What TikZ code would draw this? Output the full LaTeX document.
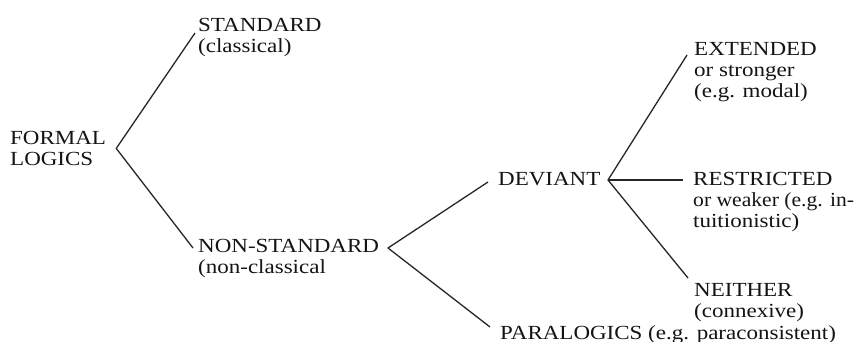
\documentclass[tikz,border=0pt]{standalone}
\usepackage{fontspec}
\setmainfont{Liberation Serif}[FakeStretch=1.15]
\begin{document}
\begin{tikzpicture}[x=1pt,y=-1pt,
  lbl/.style={anchor=north west, inner sep=0pt, align=left, text=black!92,
    font=\fontsize{20}{21}\selectfont},
  branch/.style={draw=black!85, line width=1.3pt, line join=round}]
\useasboundingbox (0,0) rectangle (855,342);

% labels
\node[lbl] (fl)   at (10,131)  {FORMAL\\LOGICS};
\node[lbl] (std)  at (198,18)  {STANDARD\\(classical)};
\node[lbl] (nstd) at (198,239) {NON-STANDARD\\(non-classical};
\node[lbl] (dev)  at (498,172) {DEVIANT};
\node[lbl] (par)  at (500,325) {PARALOGICS (e.g. paraconsistent)};
\node[lbl] (ext)  at (694,42)  {EXTENDED\\or stronger\\(e.g. modal)};
\node[lbl] (res)  at (693,172) {RESTRICTED\\\scalebox{0.94}[1]{or weaker (e.g. in-}\\tuitionistic)};
\node[lbl] (nei)  at (694,283) {NEITHER\\(connexive)};

% branching points
\coordinate (a1) at ([xshift=10pt]fl.east);
\coordinate (a2) at (388,248);
\coordinate (a3) at (608,180);

% free ends of the branches, just left of each label
\coordinate (e-std)  at ([shift={(-3,15)}]std.north west);
\coordinate (e-nstd) at ([shift={(-5,9)}]nstd.north west);
\coordinate (e-dev)  at ([shift={(-10,10)}]dev.north west);
\coordinate (e-par)  at ([shift={(-10,2)}]par.north west);
\coordinate (e-ext)  at ([shift={(-7,13)}]ext.north west);
\coordinate (e-res)  at ([shift={(-10,8)}]res.north west);
\coordinate (e-nei)  at ([shift={(-6,-5)}]nei.north west);

\draw[branch] (e-std) -- (a1) -- (e-nstd);
\draw[branch] (e-dev) -- (a2) -- (e-par);
\draw[branch] (e-ext) -- (a3) -- (e-nei);
\draw[branch] (a3) -- (e-res);
\end{tikzpicture}
\end{document}
